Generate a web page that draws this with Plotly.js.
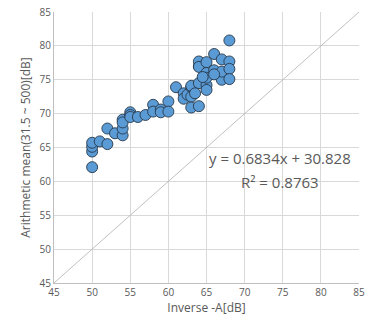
<!DOCTYPE html>
<html>
<head>
<meta charset="utf-8">
<script src="https://cdn.plot.ly/plotly-3.0.1.min.js"></script>
<style>html,body{margin:0;padding:0;background:#fff;}#chart{width:375px;height:322px;}</style>
</head>
<body>
<div id="chart"></div>
<script>
var inverseA = [50,50,50,50,51,52,52,53,54,54,54,54,55,55,55,56,57,58,58,59,59,60,60,61,62,62,62.5,63,63,63,63,64,64,64,64,64,65,65,65,65,65,66,66,67,67,67,68,68,68,68,63.5,66,64.5];
var arithMean = [62.1,64.4,65.1,65.7,65.9,65.5,67.8,67.1,66.8,67.8,69.1,68.7,70.2,69.8,69.5,69.5,69.8,71.3,70.3,70.6,70.2,71.8,70.3,73.9,73.0,72.2,72.8,73.9,72.5,70.9,74.1,71.1,74.5,77.0,77.7,76.9,77.6,76.0,74.2,73.5,75.3,78.8,76.4,78.0,75.0,76.2,80.8,77.7,76.6,75.1,73.0,75.8,75.4];
var diagX = [45,85];
var diagY = [45,85];
var eqText = "y = 0.6834x + 30.828";
var r2Text = "R² = 0.8763";
var axisTicks = [45,50,55,60,65,70,75,80,85];

var fontFam = "Open Sans, Liberation Sans, sans-serif";
var data = [
  {x: diagX, y: diagY, mode: 'lines', type: 'scatter', line: {color: '#B0B0B0', width: 0.8}, hoverinfo: 'skip', showlegend: false},
  {x: inverseA, y: arithMean, mode: 'markers', type: 'scatter',
   marker: {size: 11, color: '#5B9BD5', line: {color: '#26384A', width: 0.9}}, showlegend: false}
];
var layout = {
  width: 375, height: 322,
  margin: {l: 54, r: 16, t: 12, b: 39},
  paper_bgcolor: '#fff', plot_bgcolor: '#fff',
  font: {family: fontFam, color: '#595959', size: 10},
  xaxis: {range: [45, 85], tickvals: axisTicks, showgrid: true, gridcolor: '#D9D9D9', gridwidth: 1,
          zeroline: false, showline: true, linecolor: '#BFBFBF', linewidth: 1, ticks: '',
          tickfont: {size: 10, color: '#595959'}, fixedrange: true,
          title: {text: 'Inverse -A[dB]', font: {size: 12, color: '#595959'}, standoff: 4}},
  yaxis: {range: [45, 85], tickvals: axisTicks, showgrid: true, gridcolor: '#D9D9D9', gridwidth: 1,
          zeroline: false, showline: true, linecolor: '#BFBFBF', linewidth: 1, ticks: '',
          tickfont: {size: 10, color: '#595959'}, fixedrange: true,
          title: {text: 'Arithmetic mean(31.5 ~ 500)[dB]', font: {size: 12, color: '#595959'}, standoff: 6}},
  annotations: [
    {x: 280, y: 158, xref: 'paper', yref: 'paper', text: eqText, showarrow: false,
     font: {size: 15, color: '#595959', family: fontFam}, xanchor: 'center', yanchor: 'middle'},
    {x: 280, y: 182, xref: 'paper', yref: 'paper', text: r2Text, showarrow: false,
     font: {size: 15, color: '#595959', family: fontFam}, xanchor: 'center', yanchor: 'middle'}
  ]
};
// convert pixel positions of annotations to paper coords
var pw = 375 - 54 - 16, ph = 322 - 12 - 39;
layout.annotations.forEach(function(a){ a.x = (a.x - 54) / pw; a.y = 1 - (a.y - 12) / ph; });
Plotly.newPlot('chart', data, layout, {displayModeBar: false, staticPlot: true});
</script>
</body>
</html>
